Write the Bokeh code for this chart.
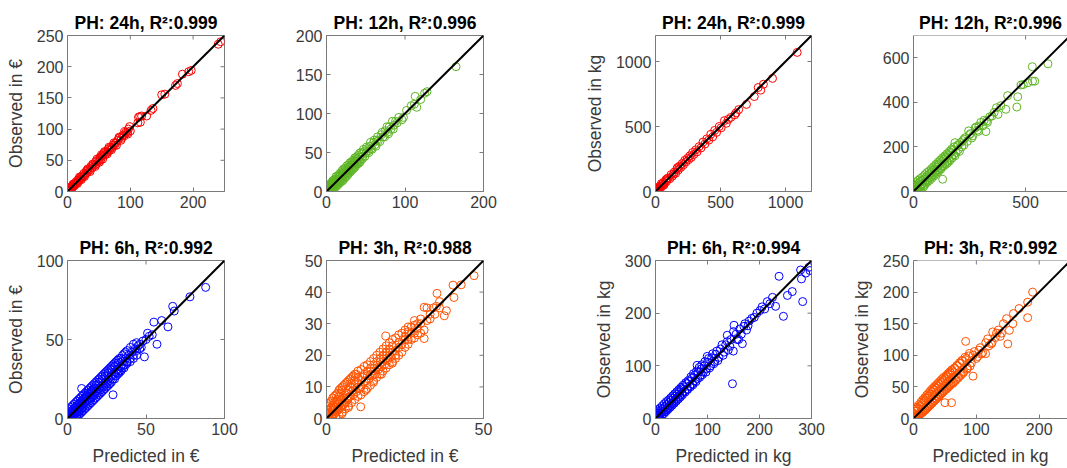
import math
from bokeh.plotting import figure
from bokeh.layouts import row, column
from bokeh.models import Range1d, FixedTicker, Span
from bokeh.embed import file_html
from bokeh.resources import INLINE

# ---------------- data: (predicted, observed) pairs ----------------
eur_24h = [(0,1),(1,0),(1,2),(2,1),(2,3),(3,2),(3,5),(4,3),(5,6),(5,4),(6,7),(7,5),(8,9),(9,8),(10,12),
           (11,9),(12,13),(13,12),(14,16),(15,14),(17,19),(18,17),(20,22),(21,20),(23,25),(25,24),(26,29),
           (28,27),(30,33),(31,30),(33,35),(35,34),(37,40),(39,38),(41,43),(43,42),(45,48),(46,44),(48,50),
           (50,49),(52,55),(53,51),(55,57),(57,58),(58,62),(60,59),(62,64),(64,63),(65,68),(67,66),(69,71),
           (71,70),(73,75),(75,74),(77,78),(80,82),(83,86),(86,85),(88,90),(90,89),(93,95),(95,94),(97,100),
           (100,97),(112,110),(115,120),(118,121),(126,121),(133,130),(136,133),(150,155),(155,156),
           (172,170),(175,173),(183,188),(193,192),(197,194),(240,236),(244,240),
           (0,3),(2,0),(4,7),(6,3),(9,12),(16,13),(19,23),(22,19),(27,24),(32,36),(36,32),(40,44),(44,40),
           (47,52),(51,47),(54,59),(56,52),(59,64),(63,60),(66,71),(70,67),(74,78),(78,74),(82,87),(85,82),
           (91,96),(96,92),(99,104),(113,119),(116,111)]

eur_12h = [(0,0),(1,3),(1,0),(2,1),(2,5),(3,2),(3,6),(4,1),(4,4),(5,8),(5,3),(6,6),(6,9),(7,4),(7,8),(8,11),
           (8,6),(9,9),(9,13),(10,7),(10,11),(11,14),(11,9),(12,12),(12,16),(13,10),(14,15),(14,12),(15,18),
           (15,14),(16,13),(17,19),(17,16),(18,21),(18,15),(19,18),(20,23),(20,19),(21,17),(22,24),(22,21),
           (23,26),(24,22),(25,27),(25,24),(26,23),(27,30),(28,27),(29,31),(30,28),(31,34),(32,30),(33,35),
           (34,33),(35,38),(36,34),(37,39),(38,37),(39,42),(40,38),(42,44),(43,41),(45,48),(46,45),(48,51),
           (50,49),(52,55),(53,52),(55,58),(57,55),(60,63),(62,60),(64,66),(66,65),(70,73),(72,70),(75,78),
           (78,76),(80,83),(82,80),(86,85),(88,90),(90,88),(98,95),(102,104),(108,110),(112,112),(113,122),
           (115,108),(120,118),(125,126),(128,128),(165,160),
           (0,4),(1,6),(2,8),(3,0),(4,9),(5,0),(6,11),(7,2),(8,14),(9,4),(10,15),(11,5),(12,19),(13,7),
           (14,20),(15,9),(16,22),(17,11),(18,24),(19,13),(20,27),(21,14),(22,29),(23,17),(24,30),(25,19),
           (26,33),(27,21),(28,34),(29,24),(30,37),(31,26),(32,38),(33,28),(34,40),(35,30),(36,43),(37,32),
           (38,44),(39,35),(40,46),(41,36),(42,49),(43,38),(44,50),(46,42),(47,54),(49,45),(51,57),(54,50),
           (56,63),(58,54),(61,66),(63,58),(65,70),(68,64),(71,76),(74,70),(77,83),(79,74),(84,90),(85,80),
           (92,95),(96,92)]

kg_24h = [(0,0),(5,10),(10,3),(15,20),(20,12),(25,30),(30,22),(35,40),(40,30),(50,55),(55,45),(60,70),(70,62),
          (80,90),(85,78),(100,105),(110,98),(120,130),(130,118),(145,150),(155,140),(165,175),(175,165),
          (185,195),(195,185),(205,215),(215,205),(225,240),(235,228),(245,255),(255,245),(265,275),(275,262),
          (285,300),(295,285),(310,320),(320,305),(335,345),(350,335),(365,380),(380,365),(395,405),(410,395),
          (425,440),(440,420),(455,470),(470,455),(490,500),(505,490),(530,545),(545,525),(560,555),(580,570),
          (610,590),(620,605),(640,630),(700,670),(760,730),(790,800),(810,780),(830,825),(900,870),(1090,1070),
          (0,25),(8,30),(20,0),(45,60),(65,50),(90,100),(140,135),(170,185)]

kg_12h = [(0,0),(3,15),(5,3),(8,20),(10,8),(12,30),(15,12),(18,35),(20,18),(25,5),(25,40),(28,22),(30,45),
          (35,28),(38,50),(40,35),(45,20),(45,55),(50,42),(55,62),(58,48),(60,70),(65,55),(70,78),(72,62),
          (78,85),(80,68),(85,95),(88,75),(92,100),(95,85),(100,110),(102,90),(108,118),(110,98),(115,125),
          (120,105),(125,135),(128,115),(130,55),(135,145),(140,125),(145,155),(150,135),(155,165),(160,145),
          (165,175),(170,158),(175,185),(180,165),(185,219),(190,175),(195,205),(200,188),(210,220),(215,200),
          (225,235),(231,242),(240,225),(246,272),(255,260),(265,250),(275,285),(285,275),(292,294),(300,310),
          (310,295),(323,269),(326,316),(340,335),(350,339),(360,355),(370,376),(377,346),(390,385),(412,369),
          (420,430),(461,379),(465,425),(480,478),(490,480),(510,488),(531,495),(541,495),(530,560),(600,573),
          (2,30),(5,25),(10,40),(15,0),(20,50),(22,10),(30,58),(32,15),(40,65),(42,25),(50,75),(52,32),(60,85),
          (62,42),(70,92),(72,50),(80,102),(82,60),(90,112),(92,70),(100,122),(102,80),(110,132),(112,90),
          (120,142),(122,100),(130,152),(132,112),(140,160),(142,120),(150,170),(152,128),(160,180),(162,138),
          (170,190),(172,150),(180,200),(185,160),(200,210),(205,180),(220,228),(225,208),(250,255),(260,240),
          (280,290),(290,270),(315,320),(330,310)]

eur_6h = [(0,0),(0.5,2),(1,0),(1,3),(1.5,1),(2,4),(2,0.5),(2.5,2),(3,5),(3,1),(3.5,3),(4,6),(4,2),(4.5,4),
          (5,7),(5,3),(5.5,5),(6,8),(6,2),(6.5,6),(7,9),(7,4),(7.5,7),(8,10),(8,5),(8.5,8),(9,11),(9,6),
          (9.5,9),(10,12),(10,7),(11,10),(11,13),(12,9),(12,14),(13,12),(13,16),(14,11),(14,15),(15,13),
          (15,17),(16,14),(16,18),(17,15),(17,19),(18,17),(18,21),(19,16),(20,19),(20,23),(21,18),(22,21),
          (22,25),(23,20),(24,23),(24,27),(25,22),(26,25),(26,29),(27,24),(28,27),(28,31),(29,15),(30,28),
          (30,33),(31,29),(32,31),(32,35),(33,30),(34,33),(35,36),(36,34),(37,38),(38,36),(39,40),(40,38),
          (41,42),(42,40),(43,44),(44,43),(45,46),(46,44),(49,39),(51,54),(55,61),(57,47),(60,62),(64,58),
          (67,71),(68,68),(78,77),(88,83),
          (0,3),(0,5),(1,6),(2,7),(3,8),(3,0),(4,9),(5,10),(5,0.5),(6,11),(6,4),(7,12),(7,2),(8,13),(8,3),
          (9,14),(9,4),(9,19),(10,15),(10,5),(11,16),(11,6),(12,17),(12,7),(13,18),(13,8),(14,19),(14,9),
          (15,20),(15,10),(16,21),(16,11),(17,22),(17,12),(18,23),(18,13),(19,24),(19,14),(20,25),(20,15),
          (21,26),(21,16),(22,27),(22,17),(23,28),(23,18),(24,29),(24,19),(25,30),(25,20),(26,31),(26,21),
          (27,32),(27,22),(28,33),(28,23),(29,34),(29,25),(30,35),(30,25),(31,36),(31,27),(32,37),(32,28),
          (33,38),(33,29),(34,38),(34,30),(35,40),(35,32),(36,41),(36,32),(37,42),(37,34),(38,43),(38,35),
          (40,45),(40,36),(42,47),(42,38),(44,48),(44,40),(46,47),(47,45),(48,49),(50,50),(52,52),(54,53)]

eur_3h = [(0,0),(0.3,1),(0.5,0),(0.5,2.5),(0.8,1.5),(1,0.3),(1,3),(1.2,2),(1.5,0.8),(1.5,3.5),(1.8,2.5),
          (2,1),(2,4),(2.2,3),(2.5,1.5),(2.5,5),(2.8,3.5),(3,2),(3,5.5),(3.3,4),(3.5,2.5),(3.5,6),(3.8,4.5),
          (4,3),(4,7),(4.3,5),(4.5,3.5),(4.5,8),(4.8,6),(5,4),(5,9),(5.5,6.5),(5.5,4.5),(6,7.5),(6,5),(6.5,8),
          (6.5,6),(7,9),(7,6.5),(7.5,10),(7.5,7),(8,8.5),(8,11),(8.5,9),(8.5,7.5),(9,10),(9,12),(9.5,8.5),
          (10,11),(10,13),(10.5,9.5),(10.9,3.7),(11,12),(11,10),(11.5,13),(12,11.5),(12,14),(12.5,12),
          (13,13.5),(13,15),(13.5,12.5),(14,14),(14,16),(14.5,13.5),(15,15),(15,17),(15.5,14),(16,16),(16,18),
          (16.5,15.5),(17,17),(17,19),(17.5,16.5),(18,18),(18,20),(18.5,17),(18.9,26.1),(19,19),(19,21),
          (19.5,18.5),(20,20),(20,22),(20.5,19.5),(21,21),(21,23),(22,21.5),(22,20),(23,22.5),(23,24),
          (24,23.5),(25,25),(25,26),(26,25),(27,29),(28,27),(29,28.5),(30,30),(31.1,28),(31.1,25.3),
          (31.1,35.2),(33,33),(34.5,33),(35.2,39.6),(36,35),(37.5,32.5),(38.2,34.1),(40.3,42.2),(40.6,38.3),
          (42.9,42.3),(47,45.2),(12.5,9),(15,11.5),(17.5,14),(21,17.5),(5,1.5),(3,0.5),(7,3.5),(0,4.8),
          (0,1.5),(0,3),(0.5,4),(1,5),(1.5,5.5),(2,6.5),(2.5,7),(3,7.5),(3.5,8),(4,9),(4.5,9.5),(5,10),
          (5.5,10.5),(6,11),(6.5,11.5),(7,12),(7.5,12.5),(8,13),(8.5,13.5),(9,14),(9.5,14),(10,15),(11,15.5),
          (12,16.5),(13,17),(14,18),(15,19),(16,20),(17,21),(18,22),(19,23),(20,24),(21,25),(22,25.5),
          (23,26.5),(24,27),(25,28),(26,29),(2,0),(3,0.5),(4,1),(5,2),(6,3),(7,4),(8,5),(9,6),(10,7),
          (11,7.5),(12,8.5),(13,9.5),(14,10.5),(15,12),(16,13),(17,14),(18,15),(19,16),(20,17),(21,18),
          (22,19),(23,20),(24,21),(25,22.5),(26,23.5),(27,25),(28,25.5),(29,26.5),(30,27),(26,27.5),(27,27),
          (28,29.5),(29,30),(30,31.5),(32,31),(33,31.5),(34,35),(35,35.5),(36,37),(32,35),(28,31)]

kg_6h = [(0,0),(2,6),(4,1),(6,10),(8,3),(10,14),(12,6),(14,18),(16,9),(18,22),(20,13),(22,26),(24,17),(26,30),
         (28,21),(30,35),(32,25),(34,39),(36,29),(38,43),(40,33),(42,47),(44,37),(46,51),(48,41),(50,56),
         (52,45),(55,60),(57,50),(60,66),(62,55),(65,70),(67,60),(70,76),(72,64),(75,82),(78,70),(80,101),
         (82,88),(85,78),(88,94),(90,83),(94,100),(97,88),(99.5,118),(100,107),(104,96),(108,115),(112,104),
         (116,122),(120,110),(125,132),(130,120),(135,140),(138,158),(140,130),(145,150),(148,66),(149.6,128),
         (151,177),(155,160),(160,150),(167,142),(170,175),(175,168),(180,185),(190,192),(201,205),(210,208),
         (215,222),(231,213),(237.6,270),(246,194),(253.7,233.7),(263,241),(279,282),(280.7,265),(283,222),
         (289,276),(295,287),(297,281),
         (0,5),(1,10),(3,14),(5,2),(5,17),(7,7),(9,20),(11,10),(13,24),(15,13),(17,28),(19,16),(21,32),
         (23,20),(25,35),(27,24),(29,39),(31,28),(33,43),(35,31),(37,47),(39,36),(41,51),(43,40),(45,55),
         (47,44),(49,59),(51,48),(53,63),(56,52),(58,68),(61,56),(63,72),(66,62),(68,79),(71,66),(73,85),
         (76,72),(79,90),(81,76),(84,97),(87,82),(89,102),(92,88),(95,108),(98,94),(102,114),(106,100),
         (110,123),(114,108),(118,128),(122,116),(128,140),(132,126),(138,146),(143,137),(150,165),(157,150),
         (162,170),(165,160),(172,180),(178,176),(185,190),(195,200),(205,212),(220,218),(225,230)]

kg_3h = [(0,0),(1,18),(2,5),(3,1),(5,12),(6,3),(8,16),(9,6),(11,20),(12,8),(14,24),(15,10),(17,28),(18,13),
         (20,32),(21,16),(23,35),(24,19),(26,38),(27,22),(29,42),(30,25),(32,45),(33,28),(35,48),(36,31),
         (38,51),(39,34),(41,54),(42,37),(44,57),(45,40),(47,60),(48,43),(50,25),(50,63),(51,46),(53,66),
         (54,49),(56,69),(57,52),(59,72),(60.5,25),(60,55),(62,75),(64,58),(66,79),(68,62),(70,83),(72,66),
         (74,87),(76,70),(78,91),(80,74),(83,122),(84,95),(85,78),(88,99),(90,83),(94.7,67),(95,100),(100,95),
         (104,108),(108,102),(114.7,102.6),(115,120),(120,115),(123.7,118),(126,137),(130,128),(135,140),
         (140,135),(148,158),(150,118),(152.6,139.5),(159,166),(168,174),(181.6,159.5),(181.6,184),(189.5,200),
         (0,8),(1,3),(2,12),(4,15),(4,2),(6,18),(7,5),(9,22),(10,7),(12,26),(13,9),(15,30),(16,12),(18,33),
         (19,14),(21,37),(22,17),(24,40),(25,20),(27,44),(28,23),(30,47),(31,26),(33,50),(34,29),(36,53),
         (37,32),(39,56),(40,35),(42,59),(43,38),(45,62),(46,41),(48,65),(49,44),(52,68),(53,47),(55,71),
         (56,50),(58,74),(59,53),(61,77),(63,56),(65,80),(67,60),(69,84),(71,64),(73,88),(75,68),(77,92),
         (79,72),(82,97),(86,80),(89,103),(92,88),(97,106),(102,98),(106,112),(110,104),(118,126),(125,120),
         (132,135),(138,130),(143,150),(158,150)]

titles = ["PH: 24h, R\u00b2:0.999", "PH: 12h, R\u00b2:0.996", "PH: 24h, R\u00b2:0.999", "PH: 12h, R\u00b2:0.996",
          "PH: 6h, R\u00b2:0.992", "PH: 3h, R\u00b2:0.988", "PH: 6h, R\u00b2:0.994", "PH: 3h, R\u00b2:0.992"]
axis_max = [250, 200, 1200, 700, 100, 50, 300, 250]
x_ticks = [[0, 100, 200], [0, 100, 200], [0, 500, 1000], [0, 500],
           [0, 50, 100], [0, 50], [0, 100, 200, 300], [0, 100, 200]]
y_ticks = [[0, 50, 100, 150, 200, 250], [0, 50, 100, 150, 200], [0, 500, 1000], [0, 200, 400, 600],
           [0, 50, 100], [0, 10, 20, 30, 40, 50], [0, 100, 200, 300], [0, 50, 100, 150, 200, 250]]
x_labels = [None, None, None, None, "Predicted in \u20ac", "Predicted in \u20ac", "Predicted in kg", "Predicted in kg"]
y_labels = ["Observed in \u20ac", None, "Observed in kg", None,
            "Observed in \u20ac", None, "Observed in kg", "Observed in kg"]
colors = ["#ff0000", "#5db523", "#ff0000", "#5db523", "#0000ff", "#ff5200", "#0000ff", "#ff5200"]
datasets = [eur_24h, eur_12h, kg_24h, kg_12h, eur_6h, eur_3h, kg_6h, kg_3h]

# ---------------- layout parameters ----------------
FONT = "Liberation Sans"
AX = "#7a7a7a"
TXT = "#3a3a3a"
col_w = [280, 280, 280, 227]
col_left = [67, 46, 95, 73]
col_right = [56, 77, 29, 0]
row_h = [228, 240]
row_top = [35, 32]
row_bottom = [37, 50]
x_visible_end = [250, 200, 1200, 687, 100, 50, 300, 245]


def style_axis(ax, ticks):
    ax.ticker = FixedTicker(ticks=ticks)
    ax.minor_tick_line_color = None
    ax.major_tick_in = 4
    ax.major_tick_out = 0
    ax.major_tick_line_color = AX
    ax.axis_line_color = AX
    ax.axis_line_width = 1
    ax.major_label_text_font = FONT
    ax.major_label_text_color = TXT
    ax.major_label_text_font_size = "16px"
    ax.major_label_standoff = 4
    ax.axis_label_text_font = FONT
    ax.axis_label_text_font_size = "17.5px"
    ax.axis_label_text_font_style = "normal"
    ax.axis_label_text_color = TXT
    ax.axis_label_standoff = 8


figs = []
for i in range(8):
    r, c = divmod(i, 4)
    pts = datasets[i]
    xs = [p[0] for p in pts]
    ys = [p[1] for p in pts]
    m = axis_max[i]
    xe = x_visible_end[i]
    p = figure(width=col_w[c], height=row_h[r], output_backend="svg", toolbar_location=None,
               x_range=Range1d(0, xe), y_range=Range1d(0, m),
               min_border_left=col_left[c], min_border_right=col_right[c],
               min_border_top=row_top[r], min_border_bottom=row_bottom[r],
               title=titles[i])
    p.grid.visible = False
    p.background_fill_color = "white"
    p.border_fill_color = "white"
    p.title.align = "center"
    p.title.text_font = FONT
    p.title.text_font_size = "17.5px"
    p.title.text_font_style = "bold"
    p.title.text_color = "black"
    p.title.standoff = 6

    style_axis(p.xaxis[0], x_ticks[i])
    style_axis(p.yaxis[0], y_ticks[i])
    if x_labels[i]:
        p.xaxis[0].axis_label = x_labels[i]
    if y_labels[i]:
        p.yaxis[0].axis_label = y_labels[i]

    if c < 3:
        p.outline_line_color = AX
        p.outline_line_width = 1
    else:
        p.outline_line_color = None
        p.add_layout(Span(location=m, dimension="width", line_color=AX, line_width=1))

    # mirrored inward ticks on the top (and right) edge of the box
    p.scatter(x_ticks[i], [m] * len(x_ticks[i]), marker="dash", angle=math.pi / 2, size=8,
              line_color=AX, line_width=1)
    if c < 3:
        p.scatter([xe] * len(y_ticks[i]), y_ticks[i], marker="dash", size=8,
                  line_color=AX, line_width=1)

    p.scatter(xs, ys, marker="circle", size=8, fill_color=None, line_color=colors[i], line_width=1)
    p.line([0, m], [0, m], line_color="black", line_width=2)
    figs.append(p)

layout = column(row(*figs[:4]), row(*figs[4:]))
open("out.html", "w").write(file_html(layout, INLINE))
